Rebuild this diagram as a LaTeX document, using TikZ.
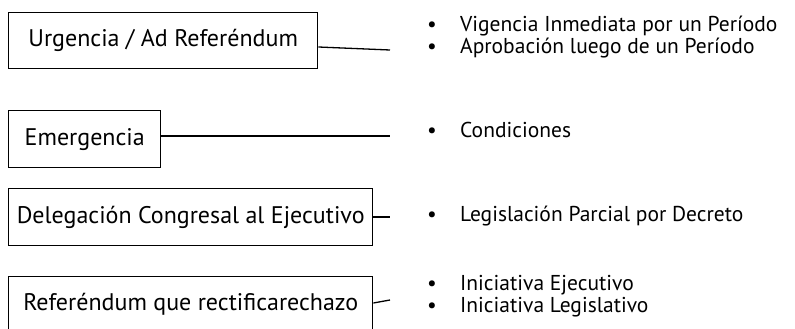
\documentclass[tikz,border=0pt]{standalone}
\usepackage{fontspec}
\setmainfont{PT Sans}

\tikzset{
  tipo/.style={draw, line width=1.4pt, anchor=north west, inner sep=0pt, font=\fontsize{24}{26}\selectfont},
  lista/.style={anchor=west, inner sep=0pt, align=left, font=\fontsize{21.5}{22.5}\selectfont},
  linea/.style={line width=1.3pt}
}
\newcommand{\punto}{\makebox[33pt][l]{\textbullet}}

\begin{document}
\begin{tikzpicture}[x=1pt,y=-1pt]
  \clip (0,0) rectangle (795,329);
  % tipos de decreto
  \node[tipo, minimum width=309pt, minimum height=56pt] (urg) at (8,12) {Urgencia / Ad Referéndum};
  \node[tipo, minimum width=152pt, minimum height=57pt] (emer) at (8,110) {Emergencia};
  \node[tipo, minimum width=364pt, minimum height=57pt] (deleg) at (8,188) {Delegación Congresal al Ejecutivo};
  \node[tipo, minimum width=364pt, minimum height=55pt] (refer) at (8,276) {Referéndum que rectificarechazo};

  % listas
  \node[lista] (vig) at (427,37) {\punto Vigencia Inmediata por un Período\\ \punto Aprobación luego de un Período};
  \node[lista] (cond) at (427,130) {\punto Condiciones};
  \node[lista] (legis) at (427,216) {\punto Legislación Parcial por Decreto};
  \node[lista] (inic) at (427,296) {\punto Iniciativa Ejecutivo\\ \punto Iniciativa Legislativo};

  % conectores
  \coordinate (c1) at (390,50);
  \coordinate (c2) at (390,136);
  \coordinate (c3) at (390,217);
  \coordinate (c4) at (390,300);
  \draw[linea] (urg.east |- 0,47) -- (c1);
  \draw[linea] (emer.east |- c2) -- (c2);
  \draw[linea] (deleg.east |- c3) -- (c3);
  \draw[linea] (refer.east |- 0,303) -- (c4);
\end{tikzpicture}
\end{document}
